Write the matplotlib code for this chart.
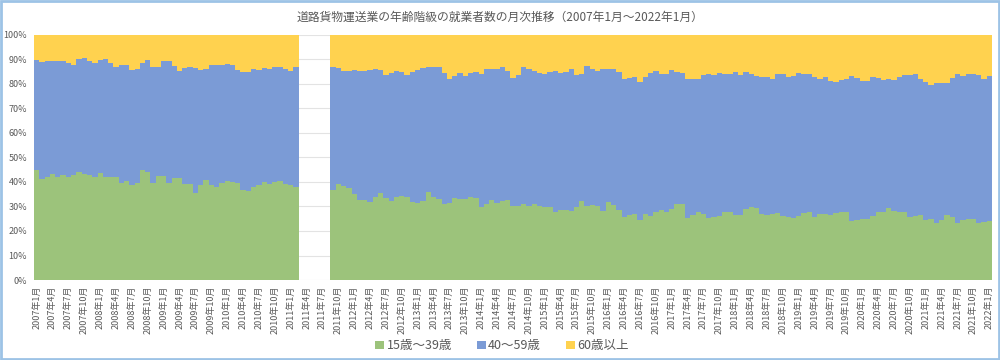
import matplotlib
matplotlib.use("Agg")
import matplotlib.pyplot as plt
from matplotlib.patches import Rectangle
import numpy as np

plt.rcParams['font.family'] = ['Noto Sans CJK JP', 'DejaVu Sans']

# 2007年1月 ～ 2022年1月 (monthly, 181 months); 2011年3月～8月 not published
months = [f"{y}年{m}月" for y in range(2007, 2023) for m in range(1, 13)][:181]
gap = [None] * 6

# share of workers (%) by age group
age15_39 = [
    44.8, 41.1, 41.8, 43.4, 41.8, 42.6, 42.1, 42.9, 43.9, 43.4, 42.8, 41.8,
    43.7, 41.8, 41.8, 41.8, 39.6, 40.3, 38.7, 39.6, 44.8, 44.1, 39.4, 42.5,
    42.2, 39.4, 41.7, 41.7, 39.1, 39.1, 35.6, 38.7, 40.7, 38.7, 37.9, 39.6,
    40.3, 39.9, 39.6, 36.8, 36.3, 38.0, 38.6, 39.9, 39.1, 39.9, 40.3, 39.1,
    38.6, 38.0,
] + gap + [
    36.7, 39.1, 38.4, 37.7, 34.9, 32.6, 32.6, 31.9, 33.9, 35.3,
    33.5, 32.3, 33.9, 34.4, 33.7, 31.9, 31.5, 32.3, 36.0, 33.9,
    33.0, 30.9, 31.2, 33.5, 32.9, 32.9, 33.7, 33.3, 29.9, 30.8,
    32.6, 31.2, 32.2, 32.6, 30.3, 30.3, 31.0, 30.3, 30.8, 30.1,
    29.9, 29.9, 27.6, 28.4, 28.4, 28.2, 29.9, 32.3, 30.3, 30.5,
    30.1, 28.2, 31.6, 30.5, 28.5, 25.5, 26.7, 26.9, 24.4, 26.9,
    26.2, 27.6, 28.4, 27.7, 28.9, 31.0, 31.1, 25.1, 26.5, 27.6,
    26.9, 25.4, 25.8, 26.2, 27.7, 27.6, 26.6, 26.6, 28.9, 29.6,
    29.3, 26.9, 26.5, 26.9, 27.2, 26.2, 25.8, 25.1, 26.2, 27.4,
    27.7, 25.8, 27.0, 26.9, 26.7, 27.4, 27.6, 27.6, 24.2, 24.3,
    24.7, 25.0, 26.1, 27.6, 27.6, 29.2, 28.2, 27.6, 27.7, 25.8,
    26.3, 26.7, 24.4, 24.8, 23.4, 24.4, 26.7, 25.5, 23.4, 24.4,
    24.8, 24.8, 23.4, 23.8, 24.0,
]

age40_59 = [
    44.8, 47.8, 47.3, 45.8, 47.5, 46.7, 46.4, 44.8, 46.0, 47.2, 46.4, 46.7,
    45.8, 48.1, 46.5, 44.8, 48.2, 47.1, 46.8, 46.5, 43.7, 45.4, 47.5, 44.4,
    47.1, 49.7, 45.5, 43.4, 47.3, 47.8, 50.6, 46.7, 45.2, 48.7, 49.9, 47.8,
    47.8, 47.8, 46.1, 48.1, 48.4, 47.8, 47.1, 46.6, 47.0, 46.7, 46.3, 46.9,
    46.7, 48.6,
] + gap + [
    49.9, 47.1, 46.9, 47.3, 50.6, 52.5, 52.4, 53.6, 51.9, 50.2,
    50.0, 51.9, 51.1, 50.2, 49.9, 52.8, 53.9, 53.9, 50.6, 52.9,
    53.6, 53.3, 50.8, 49.6, 51.3, 50.3, 50.5, 51.3, 53.9, 55.3,
    53.5, 54.7, 54.4, 52.7, 52.0, 53.3, 55.6, 55.6, 54.5, 54.4,
    53.9, 54.8, 57.5, 56.1, 56.5, 57.6, 53.6, 51.6, 56.9, 55.6,
    54.9, 57.6, 54.3, 55.4, 56.4, 56.4, 55.6, 55.9, 56.3, 55.7,
    58.0, 57.5, 55.6, 56.3, 56.8, 53.7, 53.4, 56.6, 55.5, 54.5,
    56.7, 58.4, 57.7, 58.3, 56.2, 56.3, 58.3, 56.8, 55.8, 54.3,
    53.9, 56.0, 56.2, 55.2, 56.6, 57.8, 57.0, 57.9, 58.3, 56.5,
    56.2, 57.0, 54.7, 55.7, 54.4, 53.3, 53.9, 54.3, 59.0, 58.1,
    56.5, 56.2, 56.7, 54.8, 54.0, 52.9, 53.4, 55.2, 55.8, 57.6,
    57.5, 55.2, 56.4, 54.5, 56.7, 55.7, 53.4, 56.8, 60.4, 58.8,
    59.2, 59.2, 60.0, 58.3, 59.1,
]

age60_plus = [
    10.4, 11.1, 10.9, 10.8, 10.7, 10.7, 11.5, 12.3, 10.1, 9.4, 10.8, 11.5,
    10.5, 10.1, 11.7, 13.4, 12.2, 12.6, 14.5, 13.9, 11.5, 10.5, 13.1, 13.1,
    10.7, 10.9, 12.8, 14.9, 13.6, 13.1, 13.8, 14.6, 14.1, 12.6, 12.2, 12.6,
    11.9, 12.3, 14.3, 15.1, 15.3, 14.2, 14.3, 13.5, 13.9, 13.4, 13.4, 14.0,
    14.7, 13.4,
] + gap + [
    13.4, 13.8, 14.7, 15.0, 14.5, 14.9, 15.0, 14.5, 14.2, 14.5,
    16.5, 15.8, 15.0, 15.4, 16.4, 15.3, 14.6, 13.8, 13.4, 13.2,
    13.4, 15.8, 18.0, 16.9, 15.8, 16.8, 15.8, 15.4, 16.2, 13.9,
    13.9, 14.1, 13.4, 14.7, 17.7, 16.4, 13.4, 14.1, 14.7, 15.5,
    16.2, 15.3, 14.9, 15.5, 15.1, 14.2, 16.5, 16.1, 12.8, 13.9,
    15.0, 14.2, 14.1, 14.1, 15.1, 18.1, 17.7, 17.2, 19.3, 17.4,
    15.8, 14.9, 16.0, 16.0, 14.3, 15.3, 15.5, 18.3, 18.0, 17.9,
    16.4, 16.2, 16.5, 15.5, 16.1, 16.1, 15.1, 16.6, 15.3, 16.1,
    16.8, 17.1, 17.3, 17.9, 16.2, 16.0, 17.2, 17.0, 15.5, 16.1,
    16.1, 17.2, 18.3, 17.4, 18.9, 19.3, 18.5, 18.1, 16.8, 17.6,
    18.8, 18.8, 17.2, 17.6, 18.4, 17.9, 18.4, 17.2, 16.5, 16.6,
    16.2, 18.1, 19.2, 20.7, 19.9, 19.9, 19.9, 17.7, 16.2, 16.8,
    16.0, 16.0, 16.6, 17.9, 16.9,
]

series_names = ["15歳～39歳", "40～59歳", "60歳以上"]
colors = ["#9CC37B", "#7B9BD6", "#FFD24F"]
text_gray = "#595959"

a = np.array(age15_39, dtype=float)
b = np.array(age40_59, dtype=float)
c = np.array(age60_plus, dtype=float)
total = a + b + c
ok = np.isfinite(total)
x = np.arange(len(months))

# normalise to 100% like a 100% stacked column chart
a_p = a[ok] / total[ok] * 100
b_p = b[ok] / total[ok] * 100
c_p = c[ok] / total[ok] * 100

fig = plt.figure(figsize=(10, 3.6), dpi=100)
ax = fig.add_axes([0.034, 0.222, 0.958, 0.682])

bottom = np.zeros(ok.sum())
for vals, col, name in zip([a_p, b_p, c_p], colors, series_names):
    # antialiasing off so adjacent columns join without white seams
    ax.bar(x[ok], vals, bottom=bottom, width=1.0, color=col, linewidth=0,
           antialiased=False, label=name, zorder=2)
    bottom = bottom + vals

ax.set_xlim(-0.5, len(months) - 0.5)
ax.set_ylim(0, 100)
ax.set_yticks(np.arange(0, 101, 10))
ax.set_yticklabels([f"{v}%" for v in range(0, 101, 10)], fontsize=6.5, color=text_gray)
ax.set_xticks(x[::3])
ax.set_xticklabels(months[::3], rotation=90, fontsize=6.5, color=text_gray)
ax.tick_params(axis='both', length=0)
ax.tick_params(axis='y', pad=5)
ax.tick_params(axis='x', pad=4)
ax.grid(axis='y', color='#E3E3E3', linewidth=0.8, zorder=0)
ax.set_axisbelow(True)
for s in ax.spines.values():
    s.set_visible(False)

fig.text(0.5, 0.953, "道路貨物運送業の年齢階級の就業者数の月次推移（2007年1月～2022年1月）",
         ha='center', va='center', fontsize=8.5, color=text_gray)

fig.legend(loc='center', bbox_to_anchor=(0.502, 0.039), ncol=3, frameon=False,
           fontsize=9, handlelength=0.7, handleheight=0.7, handletextpad=0.2,
           columnspacing=2.0, labelcolor=text_gray)

fig.patches.append(Rectangle((0.001, 0.002), 0.998, 0.996, transform=fig.transFigure,
                             fill=False, edgecolor='#9DC3E6', linewidth=2))

fig.savefig("out.png", dpi=100)
